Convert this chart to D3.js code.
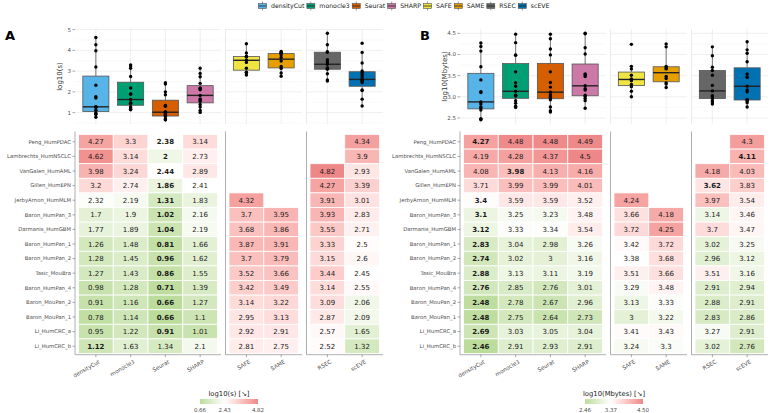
<!DOCTYPE html>
<html><head><meta charset="utf-8">
<script src="https://cdn.jsdelivr.net/npm/d3@7/dist/d3.min.js"></script>
<style>body{margin:0;background:#fff}svg{display:block}text{font-family:"DejaVu Sans",sans-serif}</style>
</head><body><svg id="c" width="770" height="413"></svg>
<script>
// ---------- data ----------
const methods = ["densityCut","monocle3","Seurat","SHARP","SAFE","SAME","RSEC","scEVE"];
const facetGroups = [["densityCut","monocle3","Seurat","SHARP"],["SAFE","SAME"],["RSEC","scEVE"]];
const methodColors = ["#56B4E9","#009E73","#D55E00","#CC79A7","#F0E442","#E69F00","#666666","#0072B2"];
const datasets = ["Peng_HumPDAC","Lambrechts_HumNSCLC","VanGalen_HumAML","Gillen_HumEPN","JerbyArnon_HumMLM",
  "Baron_HumPan_3","Darmanis_HumGBM","Baron_HumPan_1","Baron_HumPan_2","Tasic_MouBra","Baron_HumPan_4",
  "Baron_MouPan_2","Baron_MouPan_1","Li_HumCRC_a","Li_HumCRC_b"];

// Panel A: log10(s)
const timeDensityCut = [4.27,4.62,3.98,3.2,2.32,1.7,1.77,1.26,1.28,1.27,0.98,0.91,0.78,0.95,1.12];
const timeMonocle3   = [3.3,3.14,3.24,2.74,2.19,1.9,1.89,1.48,1.45,1.43,1.28,1.16,1.14,1.22,1.63];
const timeSeurat     = [2.38,2,2.44,1.86,1.31,1.02,1.04,0.81,0.96,0.86,0.71,0.66,0.66,0.91,1.34];
const timeSHARP      = [3.14,2.73,2.89,2.41,1.83,2.16,2.19,1.66,1.62,1.55,1.39,1.27,1.1,1.01,2.1];
const timeSAFE       = [null,null,null,null,4.32,3.7,3.68,3.87,3.7,3.52,3.42,3.14,2.95,2.92,2.81];
const timeSAME       = [null,null,null,null,null,3.95,3.86,3.91,3.79,3.66,3.49,3.22,3.13,2.91,2.75];
const timeRSEC       = [null,null,4.82,4.27,3.91,3.93,3.55,3.33,3.15,3.44,3.14,3.09,2.87,2.57,2.52];
const timeScEVE      = [4.34,3.9,2.93,3.39,3.01,2.83,2.71,2.5,2.6,2.45,2.55,2.06,2.09,1.65,1.32];
const timeLegend     = [0.66,2.43,4.82];
const timeTicks      = [1,2,3,4,5];

// Panel B: log10(Mbytes)
const memDensityCut = [4.27,4.19,4.08,3.71,3.4,3.1,3.12,2.83,2.74,2.88,2.76,2.48,2.48,2.69,2.46];
const memMonocle3   = [4.48,4.28,3.98,3.99,3.59,3.25,3.33,3.04,3.02,3.13,2.85,2.78,2.75,3.03,2.91];
const memSeurat     = [4.48,4.37,4.13,3.99,3.59,3.23,3.34,2.98,3,3.11,2.76,2.67,2.64,3.05,2.93];
const memSHARP      = [4.49,4.5,4.16,4.01,3.52,3.48,3.54,3.26,3.16,3.19,3.01,2.96,2.73,3.04,2.91];
const memSAFE       = [null,null,null,null,4.24,3.66,3.72,3.42,3.38,3.51,3.29,3.13,3,3.41,3.24];
const memSAME       = [null,null,null,null,null,4.18,4.25,3.72,3.68,3.66,3.48,3.33,3.22,3.43,3.3];
const memRSEC       = [null,null,4.18,3.62,3.97,3.14,3.7,3.02,2.96,3.51,2.91,2.88,2.83,3.27,3.02];
const memScEVE      = [4.3,4.11,4.03,3.83,3.54,3.46,3.47,3.25,3.12,3.16,2.94,2.91,2.86,2.91,2.76];
const memLegend     = [2.46,3.37,4.50];
const memTicks      = [2.5,3.0,3.5,4.0,4.5];

const timeCols = [timeDensityCut,timeMonocle3,timeSeurat,timeSHARP,timeSAFE,timeSAME,timeRSEC,timeScEVE];
const memCols  = [memDensityCut,memMonocle3,memSeurat,memSHARP,memSAFE,memSAME,memRSEC,memScEVE];

// ---------- drawing ----------
const svg = d3.select("#c");
const colorOf = d3.scaleOrdinal().domain(methods).range(methodColors);
const lowCol = "#bcdc9c", highCol = "#ee8888";

function drawPanel(opt){
  const g = svg.append("g");
  const x0 = opt.x0, x1 = opt.x1, gap = 4.5;
  const nTot = methods.length, nF = facetGroups.length;
  const step = (x1 - x0 - gap*(nF-1)) / (nTot + 0.2*nF);
  const facets = [];
  let cur = x0;
  facetGroups.forEach(grp => {
    const w = step*(grp.length+0.2);
    const sc = d3.scaleBand().domain(grp).range([cur, cur+w]).paddingOuter(0.1).paddingInner(0);
    facets.push({grp, sc, left: cur, right: cur+w});
    cur += w + gap;
  });
  const xOf = m => { for (const f of facets) if (f.grp.includes(m)) return f.sc(m); };
  const cx = m => xOf(m) + step/2;

  const cols = opt.cols;
  const all = cols.flat().filter(v => v != null);
  const ext = d3.extent(all), pad = (ext[1]-ext[0])*0.05;
  const bTop = 29, bBot = 124;
  const y = d3.scaleLinear().domain([ext[0]-pad, ext[1]+pad]).range([bBot, bTop]);

  // boxplot grids
  const minor = [];
  for (let i=0;i<opt.ticks.length-1;i++) minor.push((opt.ticks[i]+opt.ticks[i+1])/2);
  minor.push(opt.ticks[0]-(opt.ticks[1]-opt.ticks[0])/2);
  facets.forEach((f,fi) => {
    const gg = g.append("g");
    gg.selectAll("line.mi").data(minor.filter(v=>y(v)>=bTop&&y(v)<=bBot)).join("line")
      .attr("x1",f.left).attr("x2",f.right).attr("y1",d=>y(d)).attr("y2",d=>y(d))
      .attr("stroke","#f3f3f3").attr("stroke-width",0.5);
    gg.selectAll("line.ma").data(opt.ticks).join("line")
      .attr("x1",f.left).attr("x2",f.right).attr("y1",d=>y(d)).attr("y2",d=>y(d))
      .attr("stroke","#e8e8e8").attr("stroke-width",0.7);
    gg.selectAll("line.v").data(f.grp).join("line")
      .attr("x1",d=>cx(d)).attr("x2",d=>cx(d)).attr("y1",bTop).attr("y2",bBot)
      .attr("stroke","#e8e8e8").attr("stroke-width",0.7);
    if (fi>0) gg.append("line").attr("x1",f.left).attr("x2",f.left).attr("y1",bTop).attr("y2",bBot)
      .attr("stroke","#e2e2e2").attr("stroke-width",0.7);
  });
  // y axis of boxplot
  const ya = g.append("g");
  ya.selectAll("text").data(opt.ticks).join("text")
    .attr("x",x0-4).attr("y",d=>y(d)).attr("dy","0.35em").attr("text-anchor","end")
    .attr("font-size",5.5).attr("fill","#4d4d4d").text(opt.tickFmt);
  ya.selectAll("line").data(opt.ticks).join("line")
    .attr("x1",x0-2.5).attr("x2",x0).attr("y1",d=>y(d)).attr("y2",d=>y(d))
    .attr("stroke","#4d4d4d").attr("stroke-width",0.5);
  g.append("text").attr("transform",`translate(${x0-13},${(bTop+bBot)/2}) rotate(-90)`)
    .attr("text-anchor","middle").attr("font-size",7).attr("fill","#333").text(opt.yTitle);

  // boxes
  methods.forEach((m,i) => {
    const vals = cols[i].filter(v=>v!=null).sort(d3.ascending);
    const q1 = d3.quantile(vals,.25), med = d3.quantile(vals,.5), q3 = d3.quantile(vals,.75);
    const iqr = q3-q1;
    const lo = d3.min(vals.filter(v=>v>=q1-1.5*iqr)), hi = d3.max(vals.filter(v=>v<=q3+1.5*iqr));
    const c = cx(m), bw = step*0.75;
    const bg = g.append("g");
    bg.append("line").attr("x1",c).attr("x2",c).attr("y1",y(hi)).attr("y2",y(q3)).attr("stroke","#555").attr("stroke-width",0.8);
    bg.append("line").attr("x1",c).attr("x2",c).attr("y1",y(q1)).attr("y2",y(lo)).attr("stroke","#555").attr("stroke-width",0.8);
    bg.append("rect").attr("x",c-bw/2).attr("width",bw).attr("y",y(q3)).attr("height",y(q1)-y(q3))
      .attr("fill",colorOf(m)).attr("stroke","#555").attr("stroke-width",0.8);
    bg.append("line").attr("x1",c-bw/2).attr("x2",c+bw/2).attr("y1",y(med)).attr("y2",y(med)).attr("stroke","#222").attr("stroke-width",1.4);
    bg.selectAll("circle").data(vals).join("circle").attr("cx",c).attr("cy",d=>y(d)).attr("r",1.7).attr("fill","#000");
  });

  // heatmap
  const hTop = 134.5, hBot = 353.5;
  const yb = d3.scaleBand().domain(datasets).range([hTop,hBot]);
  const cs = d3.scaleLinear().domain(opt.legend).range([lowCol,"#ffffff",highCol]).interpolate(d3.interpolateLab).clamp(true);
  // best (first minimum) method per row
  const rowBest = datasets.map((d,r) => d3.minIndex(cols, c => c[r] == null ? undefined : c[r]));
  const cells = [];
  methods.forEach((m,i) => cols[i].forEach((v,r) => { if (v!=null) cells.push({m, i, r, v}); }));
  g.append("g").selectAll("rect").data(cells).join("rect")
    .attr("x",d=>xOf(d.m)).attr("y",d=>yb(datasets[d.r])).attr("width",step).attr("height",yb.bandwidth())
    .attr("fill",d=>cs(d.v)).attr("stroke","#fff").attr("stroke-width",0.8);
  g.append("g").selectAll("text").data(cells).join("text")
    .attr("x",d=>cx(d.m)).attr("y",d=>yb(datasets[d.r])+yb.bandwidth()/2).attr("dy","0.36em")
    .attr("text-anchor","middle").attr("font-size",7)
    .attr("font-weight",d=>d.i===rowBest[d.r]?"bold":"normal").attr("fill","#1a1a1a")
    .text(d=>String(d.v));
  // heatmap axes
  facets.forEach(f => {
    g.append("line").attr("x1",f.left).attr("x2",f.left).attr("y1",hTop-3).attr("y2",hBot+1.2).attr("stroke","#999").attr("stroke-width",0.8);
    g.append("line").attr("x1",f.left).attr("x2",f.right).attr("y1",hBot+1.2).attr("y2",hBot+1.2).attr("stroke","#999").attr("stroke-width",0.8);
    g.selectAll(null).data(f.grp).join("line").attr("x1",d=>cx(d)).attr("x2",d=>cx(d))
      .attr("y1",hBot+1.2).attr("y2",hBot+3.7).attr("stroke","#555").attr("stroke-width",0.5);
  });
  g.append("g").selectAll("text").data(methods).join("text")
    .attr("transform",d=>`translate(${cx(d)+3},${hBot+7}) rotate(-30)`)
    .attr("text-anchor","end").attr("dy","0.5em").attr("font-size",5.5).attr("fill","#4d4d4d").text(d=>d);
  g.append("g").selectAll("text").data(datasets).join("text")
    .attr("x",x0-4).attr("y",d=>yb(d)+yb.bandwidth()/2).attr("dy","0.35em").attr("text-anchor","end")
    .attr("font-size",5.3).attr("fill","#4d4d4d").text(d=>d);
  g.append("g").selectAll("line").data(datasets).join("line")
    .attr("x1",x0-2.5).attr("x2",x0).attr("y1",d=>yb(d)+yb.bandwidth()/2).attr("y2",d=>yb(d)+yb.bandwidth()/2)
    .attr("stroke","#555").attr("stroke-width",0.5);

  // color legend
  const lc = (x0+x1)/2, lw = 58;
  const lx = d3.scaleLinear().domain([opt.legend[0],opt.legend[2]]).range([lc-lw/2, lc+lw/2]);
  const gid = "grad"+opt.id;
  const grad = svg.append("defs").append("linearGradient").attr("id",gid);
  d3.range(0,1.0001,0.05).forEach(t => {
    const v = opt.legend[0] + t*(opt.legend[2]-opt.legend[0]);
    grad.append("stop").attr("offset",t).attr("stop-color",cs(v));
  });
  g.append("rect").attr("x",lc-lw/2).attr("y",399).attr("width",lw).attr("height",5).attr("fill",`url(#${gid})`);
  g.append("text").attr("x",lc).attr("y",395.5).attr("text-anchor","middle").attr("font-size",6.8).attr("fill","#1a1a1a")
    .text(opt.yTitle+" [↘]");
  g.selectAll(null).data(opt.legend).join("text").attr("x",d=>lx(d)).attr("y",411.5).attr("text-anchor","middle")
    .attr("font-size",5.5).attr("fill","#4d4d4d").text(d=>opt.legFmt(d));

  // panel letter
  g.append("text").attr("x",opt.labelX).attr("y",40).attr("font-size",13).attr("font-weight","bold").text(opt.label);
}

drawPanel({id:"A", x0:75, x1:383, cols:timeCols, ticks:timeTicks, tickFmt:d3.format("d"), yTitle:"log10(s)",
  legend:timeLegend, legFmt:d3.format(".2f"), label:"A", labelX:5});
drawPanel({id:"B", x0:460, x1:768, cols:memCols, ticks:memTicks, tickFmt:d3.format(".1f"), yTitle:"log10(Mbytes)",
  legend:memLegend, legFmt:d3.format(".2f"), label:"B", labelX:420});

// top legend
const lg = svg.append("g");
let lxCur = 258;
methods.forEach((m,i) => {
  const k = lg.append("g").attr("transform",`translate(${lxCur},1.5)`);
  k.append("line").attr("x1",4.5).attr("x2",4.5).attr("y1",0).attr("y2",9).attr("stroke","#555").attr("stroke-width",0.6);
  k.append("rect").attr("x",0.5).attr("y",2).attr("width",8).attr("height",5).attr("fill",colorOf(m)).attr("stroke","#555").attr("stroke-width",0.6);
  k.append("line").attr("x1",0.5).attr("x2",8.5).attr("y1",4.5).attr("y2",4.5).attr("stroke","#222").attr("stroke-width",0.8);
  const t = lg.append("text").attr("x",lxCur+13).attr("y",8.3).attr("font-size",6.2).attr("fill","#1a1a1a").text(m);
  lxCur += 13 + t.node().getComputedTextLength() + 2;
});
</script></body></html>
